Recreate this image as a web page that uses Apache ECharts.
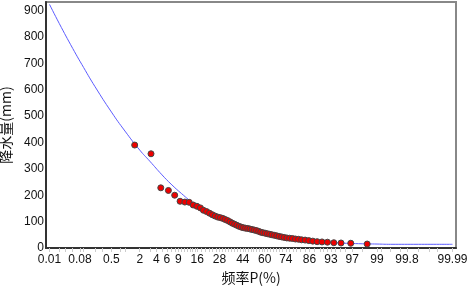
<!DOCTYPE html>
<html>
<head>
<meta charset="utf-8">
<script src="https://cdn.jsdelivr.net/npm/echarts@6/dist/echarts.min.js"></script>
<style>
  html, body { margin: 0; padding: 0; background: #fff; }
  #main { width: 467px; height: 288px; }
</style>
</head>
<body>
<div id="main"></div>
<script>
// 横轴刻度 (频率 %)
const labelP = [0.01, 0.08, 0.5, 2, 4, 6, 9, 16, 28, 44, 60, 74, 86, 93, 97, 99, 99.8, 99.99];
const tickP = [0.01, 0.02, 0.03, 0.05, 0.08, 0.1, 0.2, 0.3, 0.5, 0.8, 1, 2, 3, 4, 5, 6, 7, 8, 9, 10,
  11, 12, 13, 14, 15, 16, 18, 20, 22, 24, 26, 28, 30, 32, 34, 36, 38, 40, 42, 44, 46, 48, 50,
  52, 54, 56, 58, 60, 62, 64, 66, 68, 70, 72, 74, 76, 78, 80, 82, 84, 86, 88, 90, 91, 92, 93,
  94, 95, 96, 97, 98, 99, 99.2, 99.5, 99.7, 99.8, 99.9, 99.95, 99.97, 99.99];
const yLabels = [0, 100, 200, 300, 400, 500, 600, 700, 800, 900];

// 理论频率曲线
const curveP = [0.01, 0.02, 0.05, 0.1, 0.2, 0.5, 1, 2, 3, 5, 7, 10, 15, 20, 30, 40, 50, 60, 70, 80, 90, 95, 98, 99, 99.5, 99.9, 99.99];
const curveV = [923, 851, 756, 684, 611, 515, 443, 371, 329, 277, 242, 206, 165, 140, 111, 87, 70, 55, 43, 33, 24, 19, 16, 15, 14, 14, 14];

// 实测点据
const pointP = [1.59, 3.17, 4.76, 6.35, 7.94, 9.52, 11.1, 12.7, 14.3, 15.9, 17.5, 19.0, 20.6, 22.2, 23.8,
  25.4, 27.0, 28.6, 30.2, 31.7, 33.3, 34.9, 36.5, 38.1, 39.7, 41.3, 42.9, 44.4, 46.0, 47.6, 49.2,
  50.8, 52.4, 54.0, 55.6, 57.1, 58.7, 60.3, 61.9, 63.5, 65.1, 66.7, 68.3, 69.8, 71.4, 73.0, 74.6,
  76.2, 77.8, 79.4, 81.0, 82.5, 84.1, 85.7, 87.3, 88.9, 90.5, 92.1, 93.7, 95.2, 96.8, 98.4];
const pointV = [390, 357, 228, 218, 200, 177, 174, 173, 163, 158, 152, 143, 138, 132, 126,
  121, 117, 115, 112, 108, 104, 99, 94, 90, 86, 82, 79, 77, 75, 74, 72,
  70, 68, 66, 63, 60, 58, 56, 54, 52, 50, 48, 46, 44, 42, 40, 38,
  37, 36, 34, 33, 31, 30, 28, 26, 24, 23, 22, 20, 19, 18, 15];

// 正态分布反函数 (概率格纸)
function normInv(p) {
  const a = [-3.969683028665376e+01, 2.209460984245205e+02, -2.759285104469687e+02, 1.383577518672690e+02, -3.066479806614716e+01, 2.506628277459239e+00];
  const b = [-5.447609879822406e+01, 1.615962386632129e+02, -1.556989798598866e+02, 6.680131188771972e+01, -1.328068155288572e+01];
  const c = [-7.784894002430293e-03, -3.223964580411365e-01, -2.400758277161838e+00, -2.549732539343734e+00, 4.374664141464968e+00, 2.938163982698783e+00];
  const d = [7.784695709041462e-03, 3.224671290700398e-01, 2.445134137142996e+00, 3.754408661907416e+00];
  const pl = 0.02425;
  let q, r;
  if (p < pl) {
    q = Math.sqrt(-2 * Math.log(p));
    return (((((c[0]*q+c[1])*q+c[2])*q+c[3])*q+c[4])*q+c[5]) / ((((d[0]*q+d[1])*q+d[2])*q+d[3])*q+1);
  }
  if (p <= 1 - pl) {
    q = p - 0.5; r = q * q;
    return (((((a[0]*r+a[1])*r+a[2])*r+a[3])*r+a[4])*r+a[5])*q / (((((b[0]*r+b[1])*r+b[2])*r+b[3])*r+b[4])*r+1);
  }
  q = Math.sqrt(-2 * Math.log(1 - p));
  return -(((((c[0]*q+c[1])*q+c[2])*q+c[3])*q+c[4])*q+c[5]) / ((((d[0]*q+d[1])*q+d[2])*q+d[3])*q+1);
}
const toZ = p => normInv(p / 100);

const labelZ = labelP.map(toZ);
function labelOf(v) {
  let best = 0;
  labelZ.forEach((z, i) => { if (Math.abs(z - v) < Math.abs(labelZ[best] - v)) best = i; });
  return String(labelP[best]);
}

let myChart = echarts.init(document.getElementById("main"));
let option = {
  animation: false,
  grid: {
    left: 46, right: 11, top: 2, bottom: 40,
    containLabel: false,
    outerBoundsMode: "none",
    show: true, borderColor: "#888", borderWidth: 2, backgroundColor: "#fff"
  },
  xAxis: {
    type: "value",
    min: -3.784, max: 3.784,
    name: "频率P(%)",
    nameLocation: "middle",
    nameGap: 20,
    nameTextStyle: { fontFamily: "Noto Sans CJK SC", fontSize: 14, color: "#111" },
    axisLine: { show: true, onZero: false, lineStyle: { color: "#333", width: 2 } },
    axisTick: { show: true, customValues: tickP.map(toZ), length: 4, lineStyle: { color: "#ccc" } },
    axisLabel: {
      customValues: labelZ,
      formatter: labelOf,
      fontFamily: "Liberation Sans", fontSize: 12, color: "#111", margin: 6
    },
    splitLine: { show: false }
  },
  yAxis: {
    type: "value",
    min: 0, max: 932,
    name: "降水量(mm)",
    nameLocation: "middle",
    nameGap: 31,
    nameTextStyle: { fontFamily: "Noto Sans CJK SC", fontSize: 14, color: "#111" },
    axisLine: { show: true, onZero: false, lineStyle: { color: "#333", width: 2 } },
    axisTick: { show: false },
    axisLabel: {
      customValues: yLabels,
      fontFamily: "Liberation Sans", fontSize: 12, color: "#111", margin: 2
    },
    splitLine: { show: false }
  },
  series: [
    {
      type: "line",
      data: curveP.map((p, i) => [toZ(p), curveV[i]]),
      smooth: true,
      showSymbol: false,
      lineStyle: { color: "#5c5cff", width: 1 },
      z: 2
    },
    {
      type: "scatter",
      data: pointP.map((p, i) => [toZ(p), pointV[i]]),
      symbolSize: 6,
      itemStyle: { color: "#ee0000", borderColor: "#444", borderWidth: 1, opacity: 1 },
      z: 3
    }
  ]
};
myChart.setOption(option);
</script>
</body>
</html>
